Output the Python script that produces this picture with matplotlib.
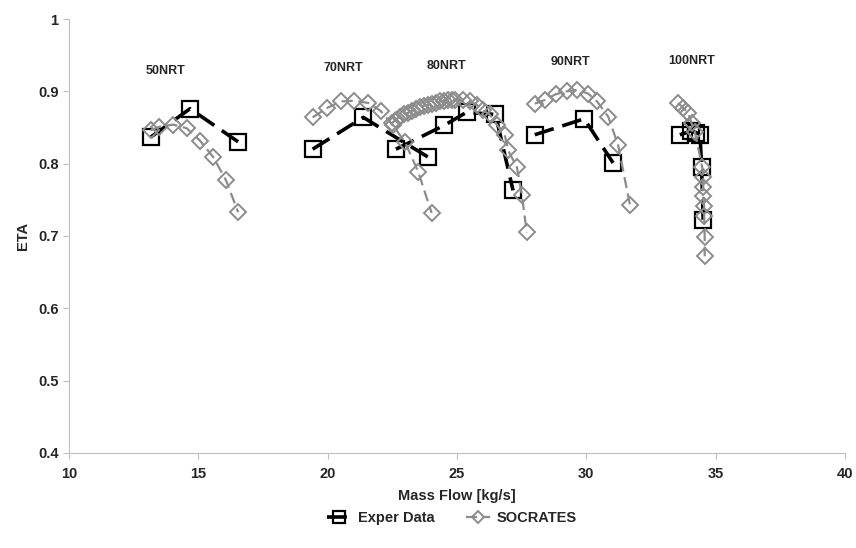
import matplotlib.pyplot as plt
import numpy as np

# experimental speed lines (mass flow [kg/s], eta)
exp_50_x = [13.17, 14.68, 16.55]
exp_50_y = [0.837, 0.876, 0.830]
exp_70_x = [19.42, 21.38, 23.89]
exp_70_y = [0.820, 0.864, 0.809]
exp_80_x = [22.64, 24.51, 25.37, 26.49, 27.17]
exp_80_y = [0.820, 0.853, 0.871, 0.868, 0.763]
exp_90_x = [28.01, 29.92, 31.04]
exp_90_y = [0.840, 0.862, 0.801]
exp_100_x = [33.62, 34.05, 34.25, 34.40, 34.46, 34.52]
exp_100_y = [0.840, 0.845, 0.843, 0.840, 0.795, 0.722]

# SOCRATES predictions
soc_50_x = [13.16, 13.49, 14.03, 14.55, 15.06, 15.58, 16.07, 16.54]
soc_50_y = [0.846, 0.851, 0.854, 0.849, 0.832, 0.809, 0.777, 0.733]
soc_70_x = [19.42, 19.98, 20.50, 21.02, 21.57, 22.05, 22.52, 22.99, 23.50, 24.02]
soc_70_y = [0.864, 0.877, 0.886, 0.887, 0.884, 0.873, 0.853, 0.830, 0.789, 0.732]
soc_80_x = [22.49, 22.64, 22.79, 22.95, 23.10, 23.26, 23.41, 23.57, 23.72, 23.88,
            24.03, 24.19, 24.34, 24.50, 24.65, 24.80, 24.92, 25.23, 25.50, 25.77,
            26.00, 26.27, 26.54, 26.85, 26.97, 27.32, 27.51, 27.70]
soc_80_y = [0.856, 0.861, 0.865, 0.868, 0.870, 0.873, 0.876, 0.879, 0.880, 0.881,
            0.883, 0.884, 0.886, 0.887, 0.888, 0.888, 0.888, 0.888, 0.886, 0.881,
            0.874, 0.868, 0.854, 0.840, 0.819, 0.795, 0.757, 0.705]
soc_90_x = [28.01, 28.40, 28.82, 29.24, 29.65, 30.07, 30.42, 30.85, 31.23, 31.69]
soc_90_y = [0.883, 0.888, 0.896, 0.900, 0.902, 0.897, 0.886, 0.865, 0.826, 0.743]
soc_100_x = [33.55, 33.75, 33.94, 34.07, 34.20, 34.48, 34.52, 34.52, 34.52, 34.56,
             34.56, 34.58, 34.58]
soc_100_y = [0.884, 0.877, 0.870, 0.856, 0.844, 0.796, 0.782, 0.768, 0.755, 0.741,
             0.727, 0.699, 0.672]

labels = ["50NRT", "70NRT", "80NRT", "90NRT", "100NRT"]
label_x = [13.75, 20.59, 24.61, 29.37, 34.08]
label_y = [0.928, 0.932, 0.935, 0.941, 0.942]

exp_lines = [(exp_50_x, exp_50_y), (exp_70_x, exp_70_y), (exp_80_x, exp_80_y),
             (exp_90_x, exp_90_y), (exp_100_x, exp_100_y)]
soc_lines = [(soc_50_x, soc_50_y), (soc_70_x, soc_70_y), (soc_80_x, soc_80_y),
             (soc_90_x, soc_90_y), (soc_100_x, soc_100_y)]

plt.rcParams['font.family'] = ['Liberation Sans', 'DejaVu Sans']
plt.rcParams['font.weight'] = 'bold'

fig = plt.figure(figsize=(8.56, 5.48), dpi=100)
ax = fig.add_axes([0.0806, 0.1734, 0.9064, 0.7919])

gray = '#8c8c8c'
for i, (x, y) in enumerate(exp_lines):
    ax.plot(x, y, color='black', lw=2.6, dashes=(5.5, 2.5), marker='s', ms=11,
            mfc='none', mec='black', mew=1.6, label='Exper Data' if i == 0 else None,
            zorder=2)
for i, (x, y) in enumerate(soc_lines):
    ax.plot(x, y, color=gray, lw=1.6, dashes=(5, 2.5), marker='D', ms=8,
            mfc='none', mec=gray, mew=1.4, label='SOCRATES' if i == 0 else None,
            zorder=3)

for t, lx, ly in zip(labels, label_x, label_y):
    ax.text(lx, ly, t, ha='center', va='center', fontsize=9, fontweight='bold',
            color='#262626')

ax.set_xlim(10, 40)
ax.set_ylim(0.4, 1.0)
ax.set_xticks(np.arange(10, 41, 5))
ax.set_yticks(np.arange(0.4, 1.01, 0.1))
ax.set_yticklabels(['0.4', '0.5', '0.6', '0.7', '0.8', '0.9', '1'])
for s in ['top', 'right']:
    ax.spines[s].set_visible(False)
for s in ['left', 'bottom']:
    ax.spines[s].set_color('#bfbfbf')
ax.tick_params(axis='both', colors='#bfbfbf', labelcolor='#262626', labelsize=10.5,
               length=4, width=0.8)
ax.tick_params(axis='x', pad=6)
for lab in ax.get_xticklabels() + ax.get_yticklabels():
    lab.set_fontweight('bold')

ax.set_xlabel('Mass Flow [kg/s]', fontsize=10.5, fontweight='bold', color='#262626',
              labelpad=6)
ax.set_ylabel('ETA', fontsize=10.5, fontweight='bold', color='#262626', labelpad=6)

leg = fig.legend(loc='center', bbox_to_anchor=(0.528, 0.0547), ncol=2, frameon=False,
                 fontsize=10.5, handlelength=1.6, handletextpad=0.5, columnspacing=2.2,
                 markerscale=0.8)
for t in leg.get_texts():
    t.set_color('#262626')
    t.set_fontweight('bold')

fig.savefig('out.png', dpi=100)
